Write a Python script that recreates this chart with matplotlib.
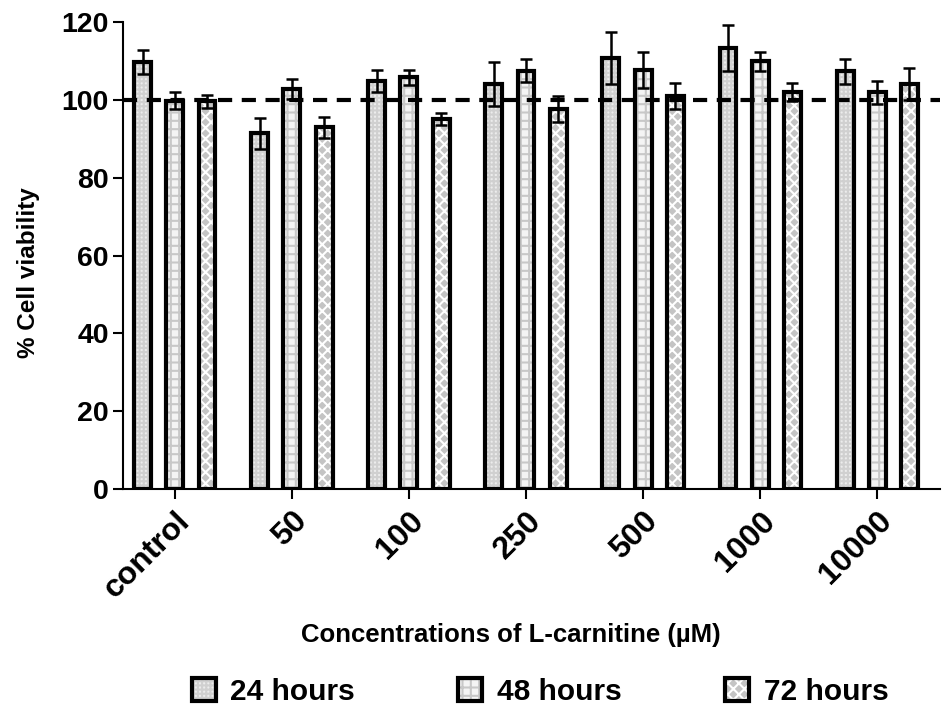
import numpy as np
import matplotlib.pyplot as plt
from matplotlib.patches import Patch

plt.rcParams['font.family'] = ['Liberation Sans', 'DejaVu Sans']
plt.rcParams['font.weight'] = 'bold'
plt.rcParams['hatch.linewidth'] = 1.5

# data
concentrations = ["control", "50", "100", "250", "500", "1000", "10000"]
series = ["24 hours", "48 hours", "72 hours"]
mean_24 = [109.7, 91.4, 104.8, 104.1, 110.7, 113.3, 107.3]
err_24 = [3.1, 4.0, 2.9, 5.6, 6.6, 6.0, 3.2]
mean_48 = [99.8, 102.8, 105.8, 107.5, 107.7, 109.9, 101.9]
err_48 = [2.2, 2.5, 1.9, 3.0, 4.7, 2.4, 3.0]
mean_72 = [99.6, 93.0, 95.1, 97.6, 101.0, 102.1, 104.0]
err_72 = [1.6, 2.7, 1.5, 3.4, 3.3, 2.3, 4.1]
reference_level = 100

means = [mean_24, mean_48, mean_72]
errs = [err_24, err_48, err_72]

# fill colour, hatch colour, hatch pattern for each series
styles = [
    ("#ececec", "#d0d0d0", "++++"),
    ("#f4f4f4", "#c8c8c8", "++"),
    ("#c4c4c4", "white", "xxx"),
]

fig = plt.figure(figsize=(9.45, 7.07), dpi=100)
ax = fig.add_axes([0.130, 0.308, 0.865, 0.661])

x = np.arange(len(concentrations))
offset = 0.274
width = 0.145

handles = []
for i in range(3):
    pos = x + (i - 1) * offset
    face, hcol, hatch = styles[i]
    # hatched fill first, then the black outline on top
    ax.bar(pos, means[i], width, color=face, edgecolor=hcol, hatch=hatch,
           linewidth=0, zorder=2)
    ax.bar(pos, means[i], width, fill=False, edgecolor="black",
           linewidth=3, zorder=3)
    ax.errorbar(pos, means[i], yerr=errs[i], fmt="none", ecolor="black",
                elinewidth=1.8, capsize=4.5, capthick=1.8, zorder=4)
    fill = Patch(facecolor=face, edgecolor=hcol, hatch=hatch, linewidth=0)
    outline = Patch(fill=False, edgecolor="black", linewidth=3)
    handles.append((fill, outline))

ax.axhline(reference_level, color="black", linewidth=3,
           linestyle=(0, (3.4, 2.3)), zorder=5)

ax.set_xlim(-0.445, 6.54)
ax.set_ylim(0, 120)
ax.set_yticks(range(0, 121, 20))
ax.set_xticks(x)
ax.set_xticklabels(concentrations, rotation=45, ha="right",
                   rotation_mode="anchor", fontsize=23, fontweight="bold")
ax.tick_params(axis="y", labelsize=20.5, length=7, width=1.5, pad=3)
ax.tick_params(axis="x", length=7, width=1.5, pad=5)
for lab in ax.get_yticklabels():
    lab.set_fontweight("bold")

for side in ["top", "right"]:
    ax.spines[side].set_visible(False)
for side in ["left", "bottom"]:
    ax.spines[side].set_linewidth(1.5)

fig.text(29 / 945, 1 - 273 / 707, "% Cell viability", rotation=90,
         ha="center", va="center", fontsize=17.5, fontweight="bold")
fig.text(511 / 945, 1 - 635 / 707, "Concentrations of L-carnitine (\u00b5M)",
         ha="center", va="center", fontsize=18.5, fontweight="bold")

fig.legend(handles, series, loc="center", bbox_to_anchor=(540 / 945, 1 - 692 / 707),
           ncol=3, frameon=False, handlelength=0.8, handleheight=0.8,
           handletextpad=0.5, columnspacing=3.45,
           prop={"weight": "bold", "size": 21.5})

fig.savefig("out.png", dpi=100)
